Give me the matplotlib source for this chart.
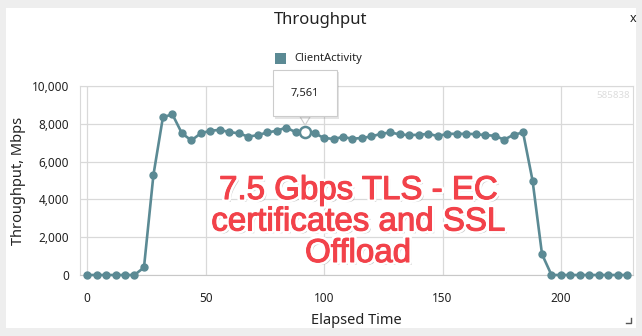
import matplotlib
matplotlib.use('Agg')
import matplotlib.pyplot as plt
from matplotlib.patches import Rectangle
from matplotlib.ticker import FuncFormatter
import matplotlib.patheffects as pe

# data
elapsed = list(range(0, 232, 4))
throughput = [0, 0, 0, 0, 0, 0, 400, 5300, 8350, 8500,
              7500, 7120, 7500, 7630, 7680, 7560, 7500, 7320, 7400, 7540,
              7630, 7800, 7560, 7561, 7500, 7250, 7200, 7300, 7210, 7250,
              7330, 7470, 7540, 7440, 7400, 7420, 7470, 7350, 7470, 7470,
              7470, 7455, 7400, 7370, 7160, 7420, 7540, 5000, 1100, 0,
              0, 0, 0, 0, 0, 0, 0, 0]
xticks = [0, 50, 100, 150, 200]
yticks = [0, 2000, 4000, 6000, 8000, 10000]
hover_t, hover_v = 92, 7561

plt.rcParams['font.family'] = ['Noto Sans', 'DejaVu Sans']
W, H = 642, 336
fig = plt.figure(figsize=(W / 100, H / 100), dpi=100, facecolor='#eeeeee')

# white panel
fig.patches.append(Rectangle((6 / W, 1 - 328 / H), 630 / W, 320 / H,
                             transform=fig.transFigure, fc='white', ec='none', zorder=-5))

ax = fig.add_axes([80 / W, 61 / H, 553 / W, 189 / H])
line_c = '#5b8a94'
ax.plot(elapsed, throughput, color=line_c, lw=1.9, marker='o', ms=5, zorder=3, clip_on=False)
ax.plot([hover_t], [hover_v], 'o', ms=8, mfc='white', mec=line_c, mew=1.8, zorder=4)

ax.set_xlim(-3, 230.4)
ax.set_ylim(0, 10000)
ax.set_xticks(xticks)
ax.set_yticks(yticks)
ax.yaxis.set_major_formatter(FuncFormatter(lambda v, p: f'{int(v):,}'))
ax.grid(True, color='#d9d9d9', lw=0.9)
ax.set_axisbelow(True)
ax.tick_params(length=0, labelsize=8.5, colors='#222222', pad=8)
ax.tick_params(axis='x', pad=12)
for s in ['top', 'right', 'left']:
    ax.spines[s].set_color('#d9d9d9')
ax.spines['bottom'].set_color('#c8c8c8')

ax.set_xlabel('Elapsed Time', fontsize=10.5, color='#222222', labelpad=6)
ax.set_ylabel('Throughput, Mbps', fontsize=10.5, color='#222222', labelpad=4)

fig.text(321 / W, 1 - 20 / H, 'Throughput', ha='center', va='center', fontsize=12, color='#222222')
fig.text(633 / W, 1 - 18 / H, 'x', ha='center', va='center', fontsize=9, color='#222222')
fig.patches.append(Rectangle((275 / W, 1 - 64 / H), 11 / W, 11 / H,
                             transform=fig.transFigure, fc=line_c, ec='none'))
fig.text(294 / W, 1 - 58 / H, 'ClientActivity', ha='left', va='center', fontsize=8, color='#222222')
ax.text(0.995, 0.95, '585838', transform=ax.transAxes, ha='right', va='center',
        fontsize=7, color='#dddddd')

# tooltip
ax.annotate('7,561', xy=(hover_t, hover_v), xytext=(0, 28), textcoords='offset points',
            ha='center', va='center', fontsize=8, color='#222222', zorder=6,
            bbox=dict(boxstyle='square,pad=1.6', fc='white', ec='#cccccc', lw=0.8,
                      path_effects=[pe.withSimplePatchShadow(offset=(1.5, -1.5), alpha=0.15)]),
            arrowprops=dict(arrowstyle='wedge,tail_width=0.9,shrink_factor=0.5',
                            fc='white', ec='#cccccc', lw=0.8, shrinkA=0, shrinkB=5))

# overlay note
fig.text(358 / W, 1 - 222 / H, '7.5 Gbps TLS - EC\ncertificates and SSL\nOffload',
         ha='center', va='center', fontsize=23.8, color='#f2424a', linespacing=1.02,
         family=['Liberation Sans', 'DejaVu Sans'], zorder=10,
         path_effects=[pe.withSimplePatchShadow(offset=(2, -2), shadow_rgbFace='#999999', alpha=0.5),
                       pe.withStroke(linewidth=4.5, foreground='white'),
                       pe.withStroke(linewidth=0.8, foreground='#f2424a')])

# resize corner
fig.lines.append(plt.Line2D([626 / W, 631 / W, 631 / W], [1 - 323 / H, 1 - 323 / H, 1 - 318 / H],
                            transform=fig.transFigure, color='#555555', lw=1))

fig.savefig('out.png', dpi=100, facecolor=fig.get_facecolor())
